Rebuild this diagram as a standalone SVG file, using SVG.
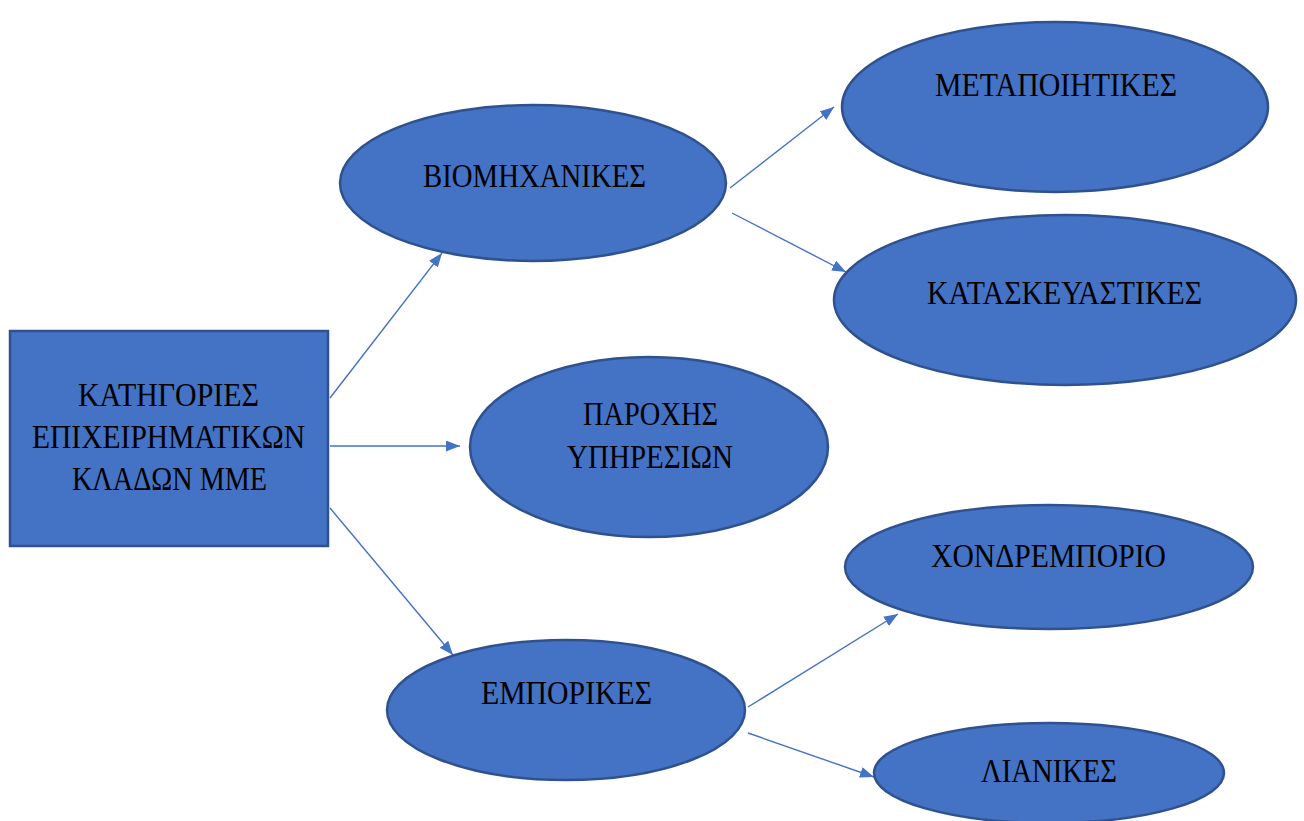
<svg xmlns="http://www.w3.org/2000/svg" width="1304" height="821" viewBox="0 0 1304 821">
<style>
.n{fill:#4472C4;stroke:#2F528F;stroke-width:2.5}
.t{font-family:"Liberation Serif","DejaVu Serif",serif;font-size:34px;fill:#000}
.c{stroke:#4472C4;stroke-width:1.4;fill:none;marker-end:url(#ah)}
</style>
<defs>
<marker id="ah" viewBox="0 0 14 11" refX="14" refY="5.5" markerWidth="14" markerHeight="11" markerUnits="userSpaceOnUse" orient="auto">
<path d="M0,0 L14,5.5 L0,11 z" fill="#4472C4"/>
</marker>
</defs>
<rect width="1304" height="821" fill="#fff"/>
<g id="connectors">
<line class="c" x1="330" y1="398" x2="442" y2="253"/>
<line class="c" x1="330" y1="446" x2="460" y2="446"/>
<line class="c" x1="330" y1="508" x2="453" y2="655"/>
<line class="c" x1="730" y1="188" x2="834" y2="107"/>
<line class="c" x1="732" y1="213" x2="846" y2="272"/>
<line class="c" x1="748" y1="707" x2="898" y2="614"/>
<line class="c" x1="748" y1="733" x2="874" y2="777"/>
</g>
<g id="root">
<rect class="n" x="10" y="331" width="318" height="215"/>
<text class="t" x="78" y="406" textLength="181" lengthAdjust="spacingAndGlyphs">ΚΑΤΗΓΟΡΙΕΣ</text>
<text class="t" x="32" y="448" textLength="273" lengthAdjust="spacingAndGlyphs">ΕΠΙΧΕΙΡΗΜΑΤΙΚΩΝ</text>
<text class="t" x="72" y="490" textLength="195" lengthAdjust="spacingAndGlyphs">ΚΛΑΔΩΝ ΜΜΕ</text>
</g>
<g id="viomichanikes">
<ellipse class="n" cx="533" cy="183" rx="193" ry="78"/>
<text class="t" x="423" y="187" textLength="223" lengthAdjust="spacingAndGlyphs">ΒΙΟΜΗΧΑΝΙΚΕΣ</text>
</g>
<g id="metapoiitikes">
<ellipse class="n" cx="1055" cy="107" rx="213" ry="85"/>
<text class="t" x="935" y="96" textLength="242" lengthAdjust="spacingAndGlyphs">ΜΕΤΑΠΟΙΗΤΙΚΕΣ</text>
</g>
<g id="kataskevastikes">
<ellipse class="n" cx="1065" cy="300" rx="231" ry="85"/>
<text class="t" x="927" y="304" textLength="275" lengthAdjust="spacingAndGlyphs">ΚΑΤΑΣΚΕΥΑΣΤΙΚΕΣ</text>
</g>
<g id="parochi">
<ellipse class="n" cx="649" cy="447" rx="179" ry="90"/>
<text class="t" x="583" y="425" textLength="135" lengthAdjust="spacingAndGlyphs">ΠΑΡΟΧΗΣ</text>
<text class="t" x="567" y="468" textLength="166" lengthAdjust="spacingAndGlyphs">ΥΠΗΡΕΣΙΩΝ</text>
</g>
<g id="chondremporio">
<ellipse class="n" cx="1049" cy="567" rx="204" ry="62"/>
<text class="t" x="931" y="567" textLength="235" lengthAdjust="spacingAndGlyphs">ΧΟΝΔΡΕΜΠΟΡΙΟ</text>
</g>
<g id="emporikes">
<ellipse class="n" cx="566" cy="710" rx="179" ry="70"/>
<text class="t" x="481" y="704" textLength="171" lengthAdjust="spacingAndGlyphs">ΕΜΠΟΡΙΚΕΣ</text>
</g>
<g id="lianikes">
<ellipse class="n" cx="1049" cy="773" rx="175" ry="50"/>
<text class="t" x="981" y="782" textLength="136" lengthAdjust="spacingAndGlyphs">ΛΙΑΝΙΚΕΣ</text>
</g>
</svg>
